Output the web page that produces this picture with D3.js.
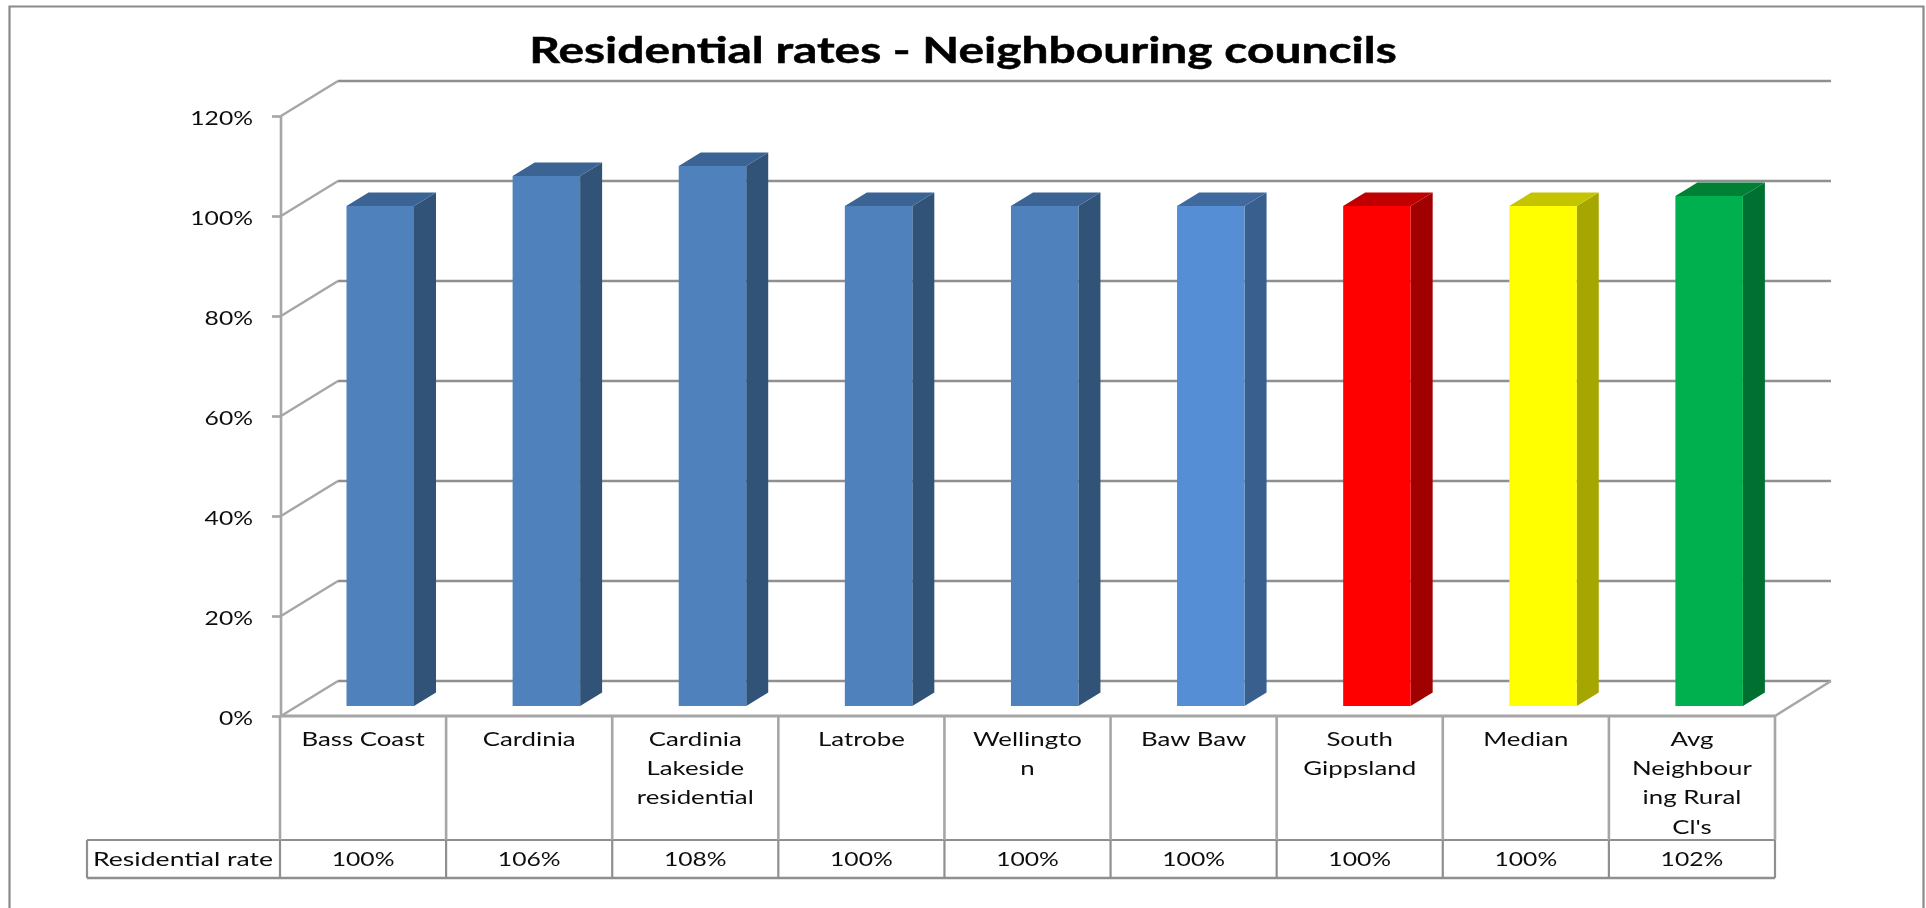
<!DOCTYPE html>
<html><head><meta charset="utf-8">
<script src="https://cdn.jsdelivr.net/npm/d3@7/dist/d3.min.js"></script>
<style>html,body{margin:0;padding:0;background:#fff;overflow:hidden}svg{display:block}text{font-family:Lato,"Open Sans",sans-serif;fill:#111}</style>
</head><body><div id="chart"></div>
<script>
const title = "Residential rates - Neighbouring councils";
const rowLabel = "Residential rate";
const categories = ["Bass Coast","Cardinia","Cardinia Lakeside residential","Latrobe","Wellington","Baw Baw","South Gippsland","Median","Avg Neighbouring Rural Cl's"];
const categoryLines = [["Bass Coast"],["Cardinia"],["Cardinia","Lakeside","residential"],["Latrobe"],["Wellingto","n"],["Baw Baw"],["South","Gippsland"],["Median"],["Avg","Neighbour","ing Rural","Cl's"]];
const values = [100,106,108,100,100,100,100,100,102];
const frontColors = ["#4F81BD","#4F81BD","#4F81BD","#4F81BD","#4F81BD","#558ED5","#FF0000","#FFFF00","#00B050"];
const sideColors  = ["#315378","#315378","#315378","#315378","#315378","#375F8E","#A00000","#A6A600","#007030"];
const topColors   = ["#3B6494","#3B6494","#3B6494","#3B6494","#3B6494","#40699E","#C00000","#C4C400","#008035"];
const yTicks = [0,20,40,60,80,100,120];

const W=1926,H=908, sx=1.36, grid="#8f8f8f", gridSoft="#a6a6a6";
const x=d3.scaleBand().domain(categories).range([280,1775]);
const y=d3.scaleLinear().domain([0,120]).range([716,116]);
const wallDx=57, wallDy=-35, barInset=66.5, barW=67.5, barLift=10, depthX=22, depthY=-13.5;

const svg=d3.select("#chart").append("svg").attr("width",W).attr("height",H);
svg.append("defs").append("filter").attr("id","soft").append("feGaussianBlur").attr("stdDeviation",0.7);
const g=svg.append("g").attr("filter","url(#soft)");
const line=(a,b,c,d,w=2.4,col=grid)=>g.append("line").attr("x1",a).attr("y1",b).attr("x2",c).attr("y2",d).attr("stroke",col).attr("stroke-width",w);

// outer frame
g.append("path").attr("d",`M9.5,${H} V6.5 H1923.5 V${H}`).attr("fill","none").attr("stroke","#8a8a8a").attr("stroke-width",2.2);

// title
g.append("text").text(title).attr("text-anchor","middle").attr("font-weight",700).attr("font-size",37)
  .attr("stroke","#000").attr("stroke-width",0.5)
  .attr("transform",`translate(963,63) scale(1.295,1)`).style("fill","#000");

// walls: back gridlines and diagonals
yTicks.forEach(t=>{
  line(281,y(t),281+wallDx,y(t)+wallDy,2.4,gridSoft);
  line(281+wallDx,y(t)+wallDy,1831,y(t)+wallDy);
});
line(1775,y(0),1831,y(0)+wallDy,2.4,gridSoft);

// y axis
const axis=g.append("g").attr("transform","translate(281,0)")
  .call(d3.axisLeft(y).tickValues(yTicks).tickFormat(d=>d+"%").tickSize(9));
axis.selectAll("path,line").attr("stroke",gridSoft).attr("stroke-width",2.6);
axis.select(".domain").attr("d",`M0,${y(120)}V${y(0)}`);
axis.selectAll("text").attr("x",0).attr("dy",null)
  .attr("text-anchor","end").attr("font-size",19)
  .attr("transform",`translate(-28,8) scale(1.3,1)`);
axis.attr("font-family",null).attr("font-size",null);

// bars
const bars=g.selectAll(".bar").data(categories).join("g").attr("class","bar");
const X=d=>x(d)+barInset;
const Y=(i)=>y(values[i])-barLift;
const base=y(0)-barLift;
bars.append("path").attr("fill",(d,i)=>sideColors[i])
  .attr("d",(d,i)=>`M${X(d)+barW},${Y(i)} l${depthX},${depthY} V${base+depthY} l${-depthX},${-depthY} Z`);
bars.append("path").attr("fill",(d,i)=>topColors[i])
  .attr("d",(d,i)=>`M${X(d)},${Y(i)} l${depthX},${depthY} h${barW} l${-depthX},${-depthY} Z`);
bars.append("rect").attr("fill",(d,i)=>frontColors[i])
  .attr("x",d=>X(d)).attr("width",barW).attr("y",(d,i)=>Y(i)).attr("height",(d,i)=>base-Y(i));

// data table
const rowTop=840,rowBottom=878;
line(280,y(0),1775,y(0),3,gridSoft);
line(87,rowTop,1775,rowTop,2.2);
line(87,rowBottom,1775,rowBottom,2.4);
line(87,rowTop,87,rowBottom,2.2);
line(280,y(0),280,rowTop,2.6,gridSoft);
line(280,rowTop,280,rowBottom,2.2);
categories.forEach(c=>{
  const e=x(c)+x.bandwidth();
  line(e,y(0),e,rowTop,2.6,gridSoft);
  line(e,rowTop,e,rowBottom,2.2);
});

const cell=(s,cx,cy,k=sx)=>g.append("text").text(s).attr("text-anchor","middle").attr("font-size",19)
  .attr("transform",`translate(${cx},${cy}) scale(${k},1)`);
categories.forEach((c,i)=>{
  const cx=x(c)+x.bandwidth()/2;
  categoryLines[i].forEach((s,k)=>cell(s,cx,746+k*29.2));
  cell(values[i]+"%",cx,866,1.3);
});
cell(rowLabel,183,866,1.4);
</script></body></html>
